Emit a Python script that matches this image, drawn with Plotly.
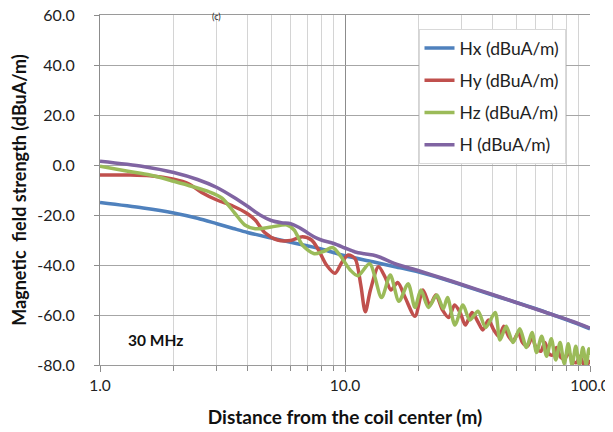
import plotly.graph_objects as go

# ---- data ----
d_hx = [1, 1.5, 2, 2.5, 3, 3.5, 4, 5, 6, 7, 8, 10, 13, 16, 20, 25, 30, 40, 50, 60, 70, 85, 100]
hx = [-15, -17.2, -19.2, -21.3, -23.5, -25.4, -27, -29.2, -30.9, -32.3, -33.6, -36.3,
      -38.7, -40.7, -42.8, -45.5, -48, -52, -55, -57.5, -59.8, -62.8, -65.5]

d_hy = [1, 1.3, 1.6, 2, 2.3, 2.6, 3, 3.5, 4, 4.3, 4.7, 5.3, 6, 6.7, 7.3, 7.8, 8.4, 9.1, 9.7,
        10.3, 11, 11.6, 12.1, 12.7, 13.7, 14.6, 15.4, 16.4, 17.6, 19.3, 20.8, 22.2, 23.5, 25,
        26.5, 28, 29.5, 31, 33, 35, 36.5, 38.5, 40.5, 42.5, 44.5, 46.5, 48.5, 51, 53, 55.5, 58,
        60.5, 63, 65.5, 68, 70.5, 73, 76, 79, 82, 85, 88, 91, 94, 97, 100]
hy = [-4, -4, -4.3, -5.7, -7.5, -11, -14, -16.5, -19.5, -22, -27, -30, -30.2, -28.7, -30, -34,
      -40, -43.3, -39, -36, -37.5, -48, -58.7, -50, -40.7, -45, -50, -47, -53, -60.5, -50, -56,
      -52, -58, -61, -56, -59, -64, -59, -63, -66, -62, -66, -68.5, -64.5, -68.5, -70.5, -67,
      -71, -72.5, -69, -73.5, -74.5, -71, -75.5, -76, -73, -77, -77.5, -75, -78.5, -79, -76.5,
      -79.5, -80, -78]

d_hz = [1, 1.3, 1.6, 2, 2.4, 2.8, 3.15, 3.55, 3.9, 4.3, 5, 5.8, 6.2, 6.7, 7.5, 8.2, 8.9, 9.6,
        10.5, 11.3, 12.6, 14.1, 15.3, 16.6, 18.1, 19.3, 20.4, 21.9, 23.7, 25.2, 26.2, 28.1, 30.3,
        32.3, 34.9, 37.5, 41, 42.9, 45.5, 48.5, 51.7, 55, 58, 60.5, 63.5, 66.5, 69.5, 72.5, 75.5,
        78.5, 81.5, 84.5, 87.5, 90.5, 93.5, 96.5, 99, 100]
hz = [-0.5, -2.5, -4, -6.5, -8.7, -10.8, -13.3, -19.3, -24, -25.5, -24.8, -24, -26, -32, -35.5,
      -34.5, -33, -36.5, -42, -44.3, -39.5, -53, -44, -54.5, -47.5, -57, -50, -57, -52, -57.5,
      -53, -64, -56, -62, -58.5, -65, -59, -70, -64.5, -71, -65.5, -73, -67, -75, -68.5, -76.5,
      -69.5, -78, -71, -79.5, -71.5, -80, -72.5, -80, -73, -80, -73.5, -76]

d_h = [1, 1.5, 2, 2.5, 3, 3.5, 4, 4.5, 5, 5.5, 6, 6.5, 7, 7.5, 8, 9, 10, 11, 12, 13, 14, 16,
       20, 25, 30, 40, 50, 60, 70, 85, 100]
h = [1.5, -0.6, -3, -5.8, -9, -12.8, -16.5, -20, -22.2, -23.1, -23.5, -25, -27, -28.8, -30,
     -31.4, -33.2, -34.8, -35.5, -36, -37, -39.5, -42.3, -45.3, -47.8, -51.8, -55, -57.6,
     -59.8, -62.6, -65.2]

series = [
    ("Hx (dBuA/m)", d_hx, hx, "#4F81BD"),
    ("Hy (dBuA/m)", d_hy, hy, "#C0504D"),
    ("Hz (dBuA/m)", d_hz, hz, "#9BBB59"),
    ("H (dBuA/m)", d_h, h, "#8064A2"),
]

x_ticks = [1, 10, 100]
x_ticktext = ["1.0", "10.0", "100.0"]
x_minor = [2, 3, 4, 5, 6, 7, 8, 9, 20, 30, 40, 50, 60, 70, 80, 90]
y_ticks = [-80, -60, -40, -20, 0, 20, 40, 60]
y_ticktext = ["-80.0", "-60.0", "-40.0", "-20.0", "0.0", "20.0", "40.0", "60.0"]

FONT = "Lato, 'Liberation Sans', sans-serif"

fig = go.Figure()
for name, xs, ys, col in series:
    fig.add_trace(go.Scatter(
        x=xs, y=ys, name=name, mode="lines", legendgroup=name,
        line=dict(color=col, width=3.5, shape="spline", smoothing=0.8),
    ))

# the page body adds an 8 px offset, so the figure is 8 px smaller than the window
fig.update_layout(
    width=605, height=424,
    margin=dict(l=92, r=23, t=7, b=67, autoexpand=False),
    paper_bgcolor="white", plot_bgcolor="white",
    font=dict(family=FONT, size=16, color="#222222"),
    showlegend=True,
    legend=dict(
        x=0.65, y=0.96, xanchor="left", yanchor="top",
        bgcolor="white", bordercolor="#d9d9d9", borderwidth=1,
        font=dict(size=17.5, color="#222222"),
        tracegroupgap=6.5, entrywidth=128,
    ),
    xaxis=dict(
        type="log", range=[0, 2], automargin=False,
        tickvals=x_ticks, ticktext=x_ticktext,
        showgrid=True, gridcolor="#8c8c8c", gridwidth=1,
        showline=True, linecolor="#9a9a9a", linewidth=1, mirror=True,
        ticks="outside", ticklen=6, tickcolor="#8c8c8c",
        tickfont=dict(size=15.5, color="#222222"),
        ticklabeloverflow="allow",
        minor=dict(tickvals=x_minor, showgrid=True, gridcolor="#d4d4d4",
                   ticks="outside", ticklen=5, tickcolor="#8c8c8c"),
        title=dict(text="<b>Distance from the coil center (m)</b>",
                   font=dict(size=19, color="#111111"), standoff=18),
        zeroline=False,
    ),
    yaxis=dict(
        range=[-80, 60], automargin=False,
        tickvals=y_ticks, ticktext=y_ticktext,
        showgrid=True, gridcolor="#a6a6a6", gridwidth=1,
        showline=True, linecolor="#8c8c8c", linewidth=1,
        ticks="outside", ticklen=5, tickcolor="#8c8c8c",
        ticklabelstandoff=16, ticklabeloverflow="allow",
        tickfont=dict(size=16, color="#222222"),
        title=dict(text="<b>Magnetic  field strength (dBuA/m)</b>",
                   font=dict(size=18, color="#111111"), standoff=9),
        zeroline=False,
    ),
    annotations=[
        dict(text="<b>30 MHz</b>", x=0.2245, y=-70, xref="x", yref="y",
             showarrow=False, font=dict(size=15.5, color="#111111")),
        dict(text="(c)", x=0.224, y=1, xref="paper", yref="paper",
             yanchor="middle", yshift=-1, showarrow=False,
             font=dict(size=9, color="#222222")),
    ],
)

fig.write_html("out.html")
